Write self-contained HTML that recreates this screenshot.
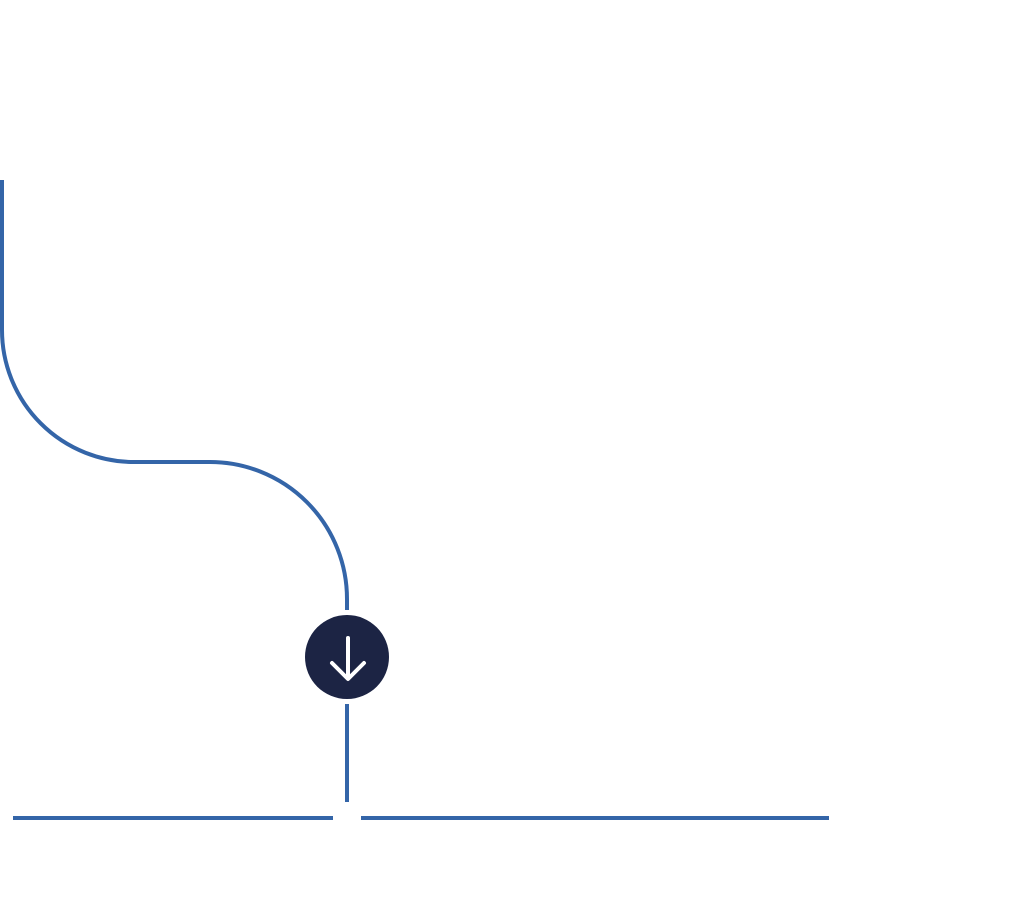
<!DOCTYPE html>
<html><head><style>html,body{margin:0;padding:0;background:#fff;width:1024px;height:912px;overflow:hidden}</style></head>
<body>
<svg width="1024" height="912" viewBox="0 0 1024 912" xmlns="http://www.w3.org/2000/svg">
<g fill="none" stroke="#3465a8" stroke-width="4">
<path d="M2 180 V330 A132 132 0 0 0 134 462 H210 A137 137 0 0 1 347 599 V610"/>
<path d="M347 704 V802"/>
<path d="M13 818 H333 M361 818 H829"/>
</g>
<circle cx="347" cy="657" r="42" fill="#1c2444"/>
<g fill="none" stroke="#fff" stroke-width="4" stroke-linecap="round" stroke-linejoin="round">
<path d="M348 638 V678 M332 663 L348 679 L364 663"/>
</g>
</svg>
</body></html>
